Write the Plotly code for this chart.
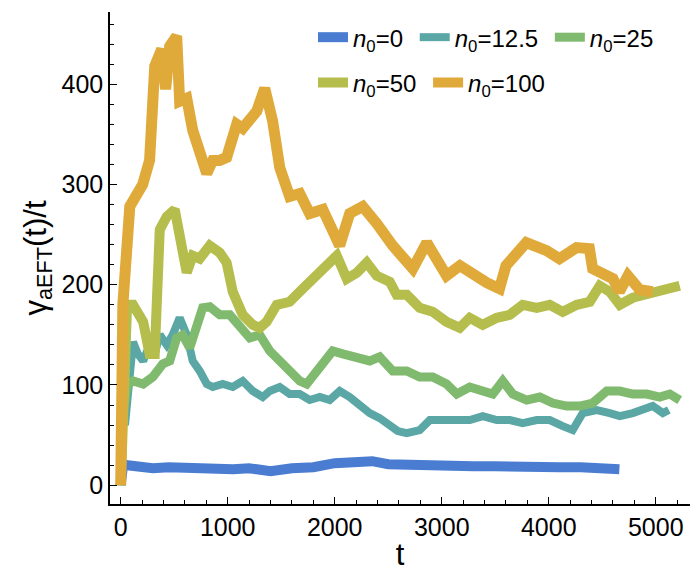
import plotly.graph_objects as go

# ---- data ----
t_n0 = [0, 20, 60, 150, 300, 450, 600, 750, 900, 1050, 1200, 1400, 1600, 1800, 2000, 2200, 2350, 2500,
        2700, 2900, 3100, 3300, 3500, 3700, 3900, 4100, 4300, 4500, 4660]
y_n0 = [0, 18, 20, 19, 17, 18, 17, 16, 17, 16, 17, 14, 17, 18, 22, 23, 24, 21,
        20, 19, 20, 19, 19, 18, 19, 18, 18, 17, 16]

t_n12 = [0, 10, 40, 80, 115, 160, 210, 270, 318, 365, 430, 486, 551, 617, 673, 738, 804, 860, 953,
         1047, 1140, 1234, 1327, 1393, 1486, 1579, 1673, 1766, 1860, 1953, 2047, 2140, 2234, 2327,
         2420, 2514, 2589, 2673, 2794, 2888, 3009, 3140, 3262, 3383, 3514, 3636, 3757, 3888, 4009,
         4131, 4224, 4318, 4449, 4570, 4664, 4785, 4879, 4972, 5066, 5122]
y_n12 = [0, 82, 60, 110, 143, 131, 124, 140, 131, 150, 140, 150, 167, 150, 124, 114, 101, 98, 101,
         98, 104, 94, 88, 94, 98, 91, 91, 85, 88, 85, 94, 88, 79, 72,
         67, 60, 54, 52, 55, 65, 65, 65, 65, 69, 65, 65, 62, 65, 65,
         59, 55, 72, 75, 72, 69, 72, 75, 79, 72, 75]

t_n25 = [0, 20, 60, 115, 210, 300, 393, 458, 523, 580, 645, 710, 766, 832, 925, 1019, 1112, 1206,
         1299, 1393, 1486, 1579, 1673, 1738, 1832, 1925, 1981, 2075, 2206, 2327, 2420, 2542, 2673,
         2794, 2916, 3045, 3140, 3262, 3383, 3477, 3570, 3664, 3794, 3916, 4037, 4168, 4290, 4411,
         4542, 4664, 4785, 4916, 5037, 5131, 5224]
y_n25 = [0, 70, 100, 104, 101, 108, 121, 124, 147, 150, 137, 157, 177, 178, 170, 170, 157, 147,
         150, 134, 124, 114, 104, 101, 114, 124, 134, 131, 128, 124, 128, 114, 114,
         108, 108, 101, 91, 98, 94, 91, 104, 91, 85, 88, 82, 79, 79, 82,
         94, 94, 91, 91, 88, 91, 85]

t_n50 = [0, 30, 60, 115, 210, 270, 318, 365, 430, 505, 551, 617, 673, 738, 832, 925, 990, 1047, 1140,
         1234, 1299, 1364, 1458, 1579, 1701, 1832, 1925, 2019, 2112, 2206, 2299, 2393, 2514, 2579,
         2673, 2794, 2916, 3045, 3168, 3262, 3383, 3514, 3636, 3757, 3888, 4009, 4131, 4262, 4383,
         4477, 4570, 4664, 4785, 4916, 5037, 5159, 5224]
y_n50 = [0, 120, 180, 180, 163, 131, 131, 255, 268, 275, 248, 212, 229, 226, 239, 232, 222, 193, 170,
         160, 157, 163, 180, 183, 196, 209, 219, 229, 206, 212, 222, 209, 203, 190,
         190, 177, 173, 163, 157, 167, 160, 167, 170, 180, 177, 180, 173, 180, 183,
         199, 193, 180, 187, 190, 193, 197, 199]

t_n100 = [0, 20, 85, 150, 205, 270, 318, 383, 420, 458, 523, 551, 617, 673, 738, 804, 860, 925, 990,
          1084, 1140, 1271, 1346, 1420, 1486, 1579, 1673, 1766, 1888, 1981, 2046, 2140, 2262, 2393,
          2542, 2730, 2860, 3045, 3170, 3420, 3540, 3600, 3790, 3980, 4100, 4260, 4380, 4410, 4600,
          4660, 4740, 4850, 4970]
y_n100 = [0, 180, 278, 288, 300, 324, 418, 435, 395, 438, 448, 383, 386, 354, 334, 311, 324, 324, 327,
          360, 356, 373, 396, 363, 317, 288, 291, 271, 275, 255, 239, 271, 278, 261,
          239, 216, 242, 209, 219, 202, 196, 219, 242, 234, 226, 237, 236, 216, 206,
          193, 209, 195, 193]

names = ["<i>n</i><sub>0</sub>=0 ", "<i>n</i><sub>0</sub>=12.5 ", "<i>n</i><sub>0</sub>=25",
         "<i>n</i><sub>0</sub>=50 ", "<i>n</i><sub>0</sub>=100"]
colors = ["#4A7DD1", "#5AA7A6", "#80BA6E", "#B5BD4C", "#E0AA3A"]
widths = [10, 8, 9, 10, 11]
series = [(t_n0, y_n0), (t_n12, y_n12), (t_n25, y_n25), (t_n50, y_n50), (t_n100, y_n100)]
legends = ["legend", "legend", "legend", "legend2", "legend2"]

fig = go.Figure()
for (tx, ty), nm, c, w, lg in zip(series, names, colors, widths, legends):
    fig.add_trace(go.Scatter(x=tx, y=ty, mode="lines", name=nm, legend=lg,
                             line=dict(color=c, width=w, shape="linear")))

font_family = "Liberation Sans, Arial, sans-serif"
fig.update_layout(
    width=698, height=574,
    margin=dict(l=110, r=8, t=12, b=62),
    plot_bgcolor="white", paper_bgcolor="white",
    font=dict(family=font_family, color="black"),
    legend=dict(orientation="h", x=0.35, y=0.948, xanchor="left", yanchor="middle",
                font=dict(size=24), bgcolor="rgba(0,0,0,0)", itemwidth=30,
                tracegroupgap=0),
    legend2=dict(orientation="h", x=0.35, y=0.856, xanchor="left", yanchor="middle",
                 font=dict(size=24), bgcolor="rgba(0,0,0,0)", itemwidth=30),
    showlegend=True,
)
fig.update_xaxes(
    range=[-100, 5320], showline=True, linecolor="black", linewidth=1.5,
    ticks="inside", ticklen=7, tickwidth=1.2, tickcolor="black",
    tickvals=[0, 1000, 2000, 3000, 4000, 5000],
    minor=dict(dtick=200, tick0=0, ticks="inside", ticklen=4, tickcolor="black", tickwidth=1),
    showgrid=False, zeroline=False, tickfont=dict(size=25),
    title=dict(text="t", font=dict(size=31), standoff=4),
    mirror=False,
)
fig.update_yaxes(
    range=[-18.7, 472], showline=True, linecolor="black", linewidth=1.5,
    ticks="inside", ticklen=7, tickwidth=1.2, tickcolor="black",
    tickvals=[0, 100, 200, 300, 400],
    minor=dict(dtick=20, tick0=0, ticks="inside", ticklen=4, tickcolor="black", tickwidth=1),
    showgrid=False, zeroline=False, tickfont=dict(size=25),
    title=dict(text="γ<sub>aEFT</sub>(t)/t", font=dict(size=31), standoff=6),
)

fig.write_html("out.html")
